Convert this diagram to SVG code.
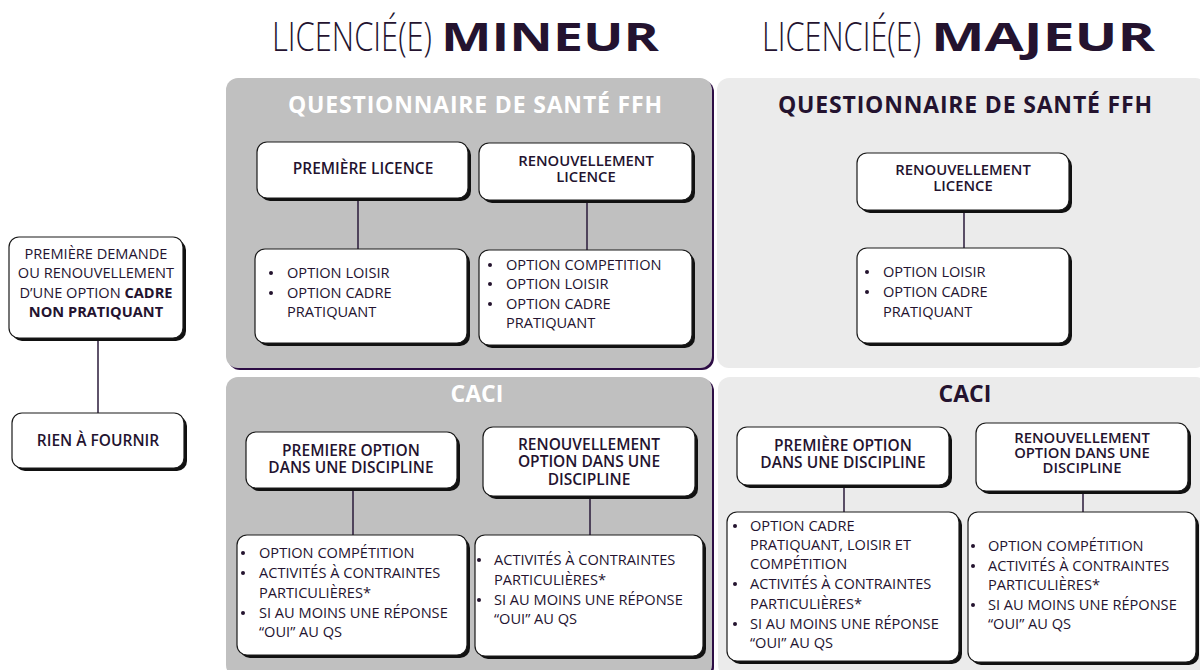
<svg xmlns="http://www.w3.org/2000/svg" width="1200" height="670" viewBox="0 0 1200 670">
<style>
.t{font-family:"Open Sans","Liberation Sans",sans-serif;fill:#24132f}
.h{font-size:40px;font-weight:300}
.hb{font-weight:700}
.pt{font-size:23px;font-weight:700;text-anchor:middle}
.bt{font-size:15.5px;font-weight:600;text-anchor:middle}
.bs{font-size:14.8px}
.li{font-size:14.6px;font-weight:400}
.b{font-weight:700}
.dot{fill:#24132f}
.bx{fill:#ffffff;stroke:#1a1a1a;stroke-width:1.2}
.sh{fill:#111111}
.ln{stroke:#2a1a3a;stroke-width:1.5;fill:none}
.pd{fill:#c0c0c0}
.pl{fill:#ebebeb}
.pe{fill:#2d0d45}
</style>
<rect width="1200" height="670" fill="#ffffff"/>

<g id="titles">
<text class="t h" x="272" y="51"><tspan textLength="160" lengthAdjust="spacingAndGlyphs">LICENCIÉ(E)</tspan><tspan class="hb" x="441" textLength="218" lengthAdjust="spacingAndGlyphs">MINEUR</tspan></text>
<text class="t h" x="762" y="51"><tspan textLength="159" lengthAdjust="spacingAndGlyphs">LICENCIÉ(E)</tspan><tspan class="hb" x="931" textLength="224" lengthAdjust="spacingAndGlyphs">MAJEUR</tspan></text>
</g>

<g id="panels">
<rect class="pe" x="228" y="80" width="486" height="290" rx="12"/>
<rect class="pd" x="226" y="78" width="486" height="290" rx="12"/>
<rect class="pl" x="717" y="78" width="490" height="290" rx="12"/>
<rect class="pe" x="228" y="379" width="486" height="300" rx="12"/>
<rect class="pd" x="226" y="377" width="486" height="300" rx="12"/>
<rect class="pl" x="718" y="377" width="490" height="300" rx="12"/>
<text class="t pt" x="475" y="113" textLength="374" style="fill:#ffffff">QUESTIONNAIRE DE SANTÉ FFH</text>
<text class="t pt" x="965" y="113" textLength="374">QUESTIONNAIRE DE SANTÉ FFH</text>
<text class="t pt" x="477" y="402" style="fill:#ffffff">CACI</text>
<text class="t pt" x="965" y="402">CACI</text>
</g>

<g id="connectors">
<line class="ln" x1="98" y1="339" x2="98" y2="413"/>
<line class="ln" x1="358" y1="198" x2="358" y2="249"/>
<line class="ln" x1="587" y1="200" x2="587" y2="250"/>
<line class="ln" x1="964" y1="210" x2="964" y2="248"/>
<line class="ln" x1="353" y1="488" x2="353" y2="535"/>
<line class="ln" x1="590" y1="496" x2="590" y2="535"/>
<line class="ln" x1="844" y1="485" x2="844" y2="512"/>
<line class="ln" x1="1083" y1="491" x2="1083" y2="512"/>
</g>

<g id="n-cadre">
<rect class="sh" x="12" y="240" width="174" height="101" rx="10"/>
<rect class="bx" x="9" y="237" width="174" height="101" rx="10"/>
<text class="t li" x="96" y="259" text-anchor="middle">PREMIÈRE DEMANDE</text>
<text class="t li" x="96" y="278" text-anchor="middle">OU RENOUVELLEMENT</text>
<text class="t li" x="96" y="298" text-anchor="middle">D’UNE OPTION <tspan class="b">CADRE</tspan></text>
<text class="t li b" x="96" y="317" text-anchor="middle">NON PRATIQUANT</text>
</g>
<g id="n-rien">
<rect class="sh" x="15" y="416" width="172" height="55" rx="10"/>
<rect class="bx" x="12" y="413" width="172" height="55" rx="10"/>
<text class="t bt" x="98" y="446">RIEN À FOURNIR</text>
</g>

<g id="n-min-premiere">
<rect class="sh" x="260" y="145" width="211" height="56" rx="10"/>
<rect class="bx" x="257" y="142" width="211" height="56" rx="10"/>
<text class="t bt" x="363" y="174">PREMIÈRE LICENCE</text>
</g>
<g id="n-min-renouv">
<rect class="sh" x="482" y="146" width="213" height="57" rx="10"/>
<rect class="bx" x="479" y="143" width="213" height="57" rx="10"/>
<text class="t bt bs" x="586" y="166">RENOUVELLEMENT</text>
<text class="t bt bs" x="586" y="182">LICENCE</text>
</g>
<g id="n-min-prem-opts">
<rect class="sh" x="258" y="252" width="212" height="94" rx="10"/>
<rect class="bx" x="255" y="249" width="212" height="94" rx="10"/>
<circle class="dot" cx="271" cy="273" r="2"/><circle class="dot" cx="271" cy="293" r="2"/>
<text class="t li" x="287" y="278">OPTION LOISIR</text>
<text class="t li" x="287" y="298">OPTION CADRE</text>
<text class="t li" x="287" y="317">PRATIQUANT</text>
</g>
<g id="n-min-renouv-opts">
<rect class="sh" x="482" y="253" width="213" height="95" rx="10"/>
<rect class="bx" x="479" y="250" width="213" height="95" rx="10"/>
<circle class="dot" cx="490" cy="265" r="2"/><circle class="dot" cx="490" cy="284" r="2"/><circle class="dot" cx="490" cy="304" r="2"/>
<text class="t li" x="506" y="270">OPTION COMPETITION</text>
<text class="t li" x="506" y="289">OPTION LOISIR</text>
<text class="t li" x="506" y="309">OPTION CADRE</text>
<text class="t li" x="506" y="328">PRATIQUANT</text>
</g>

<g id="n-maj-renouv">
<rect class="sh" x="860" y="156" width="212" height="57" rx="10"/>
<rect class="bx" x="857" y="153" width="212" height="57" rx="10"/>
<text class="t bt bs" x="963" y="175">RENOUVELLEMENT</text>
<text class="t bt bs" x="963" y="191">LICENCE</text>
</g>
<g id="n-maj-renouv-opts">
<rect class="sh" x="860" y="251" width="212" height="95" rx="10"/>
<rect class="bx" x="857" y="248" width="212" height="95" rx="10"/>
<circle class="dot" cx="867" cy="272" r="2"/><circle class="dot" cx="867" cy="292" r="2"/>
<text class="t li" x="883" y="277">OPTION LOISIR</text>
<text class="t li" x="883" y="297">OPTION CADRE</text>
<text class="t li" x="883" y="317">PRATIQUANT</text>
</g>

<g id="n-min-caci-prem">
<rect class="sh" x="249" y="435" width="211" height="56" rx="10"/>
<rect class="bx" x="246" y="432" width="211" height="56" rx="10"/>
<text class="t bt" x="351" y="456">PREMIERE OPTION</text>
<text class="t bt" x="351" y="473">DANS UNE DISCIPLINE</text>
</g>
<g id="n-min-caci-renouv">
<rect class="sh" x="486" y="430" width="212" height="69" rx="10"/>
<rect class="bx" x="483" y="427" width="212" height="69" rx="10"/>
<text class="t bt" x="589" y="450">RENOUVELLEMENT</text>
<text class="t bt" x="589" y="467">OPTION DANS UNE</text>
<text class="t bt" x="589" y="485">DISCIPLINE</text>
</g>
<g id="n-min-caci-prem-opts">
<rect class="sh" x="240" y="538" width="230" height="120" rx="10"/>
<rect class="bx" x="237" y="535" width="230" height="120" rx="10"/>
<circle class="dot" cx="243" cy="553" r="2"/><circle class="dot" cx="243" cy="573" r="2"/><circle class="dot" cx="243" cy="613" r="2"/>
<text class="t li" x="259" y="558">OPTION COMPÉTITION</text>
<text class="t li" x="259" y="578">ACTIVITÉS À CONTRAINTES</text>
<text class="t li" x="259" y="598">PARTICULIÈRES*</text>
<text class="t li" x="259" y="618">SI AU MOINS UNE RÉPONSE</text>
<text class="t li" x="259" y="637">“OUI” AU QS</text>
</g>
<g id="n-min-caci-renouv-opts">
<rect class="sh" x="478" y="538" width="228" height="121" rx="10"/>
<rect class="bx" x="475" y="535" width="228" height="121" rx="10"/>
<circle class="dot" cx="479" cy="560" r="2"/><circle class="dot" cx="479" cy="600" r="2"/>
<text class="t li" x="494" y="565">ACTIVITÉS À CONTRAINTES</text>
<text class="t li" x="494" y="585">PARTICULIÈRES*</text>
<text class="t li" x="494" y="605">SI AU MOINS UNE RÉPONSE</text>
<text class="t li" x="494" y="624">“OUI” AU QS</text>
</g>

<g id="n-maj-caci-prem">
<rect class="sh" x="740" y="430" width="212" height="58" rx="10"/>
<rect class="bx" x="737" y="427" width="212" height="58" rx="10"/>
<text class="t bt" x="843" y="451">PREMIÈRE OPTION</text>
<text class="t bt" x="843" y="468">DANS UNE DISCIPLINE</text>
</g>
<g id="n-maj-caci-renouv">
<rect class="sh" x="979" y="426" width="212" height="68" rx="10"/>
<rect class="bx" x="976" y="423" width="212" height="68" rx="10"/>
<text class="t bt bs" x="1082" y="443">RENOUVELLEMENT</text>
<text class="t bt bs" x="1082" y="458">OPTION DANS UNE</text>
<text class="t bt bs" x="1082" y="473">DISCIPLINE</text>
</g>
<g id="n-maj-caci-prem-opts">
<rect class="sh" x="730" y="515" width="232" height="149" rx="10"/>
<rect class="bx" x="727" y="512" width="232" height="149" rx="10"/>
<circle class="dot" cx="735" cy="526" r="2"/><circle class="dot" cx="735" cy="584" r="2"/><circle class="dot" cx="735" cy="624" r="2"/>
<text class="t li" x="750" y="531">OPTION CADRE</text>
<text class="t li" x="750" y="550">PRATIQUANT, LOISIR ET</text>
<text class="t li" x="750" y="569">COMPÉTITION</text>
<text class="t li" x="750" y="589">ACTIVITÉS À CONTRAINTES</text>
<text class="t li" x="750" y="609">PARTICULIÈRES*</text>
<text class="t li" x="750" y="629">SI AU MOINS UNE RÉPONSE</text>
<text class="t li" x="750" y="648">“OUI” AU QS</text>
</g>
<g id="n-maj-caci-renouv-opts">
<rect class="sh" x="971" y="515" width="228" height="150" rx="10"/>
<rect class="bx" x="968" y="512" width="228" height="150" rx="10"/>
<circle class="dot" cx="973" cy="546" r="2"/><circle class="dot" cx="973" cy="566" r="2"/><circle class="dot" cx="973" cy="605" r="2"/>
<text class="t li" x="988" y="551">OPTION COMPÉTITION</text>
<text class="t li" x="988" y="571">ACTIVITÉS À CONTRAINTES</text>
<text class="t li" x="988" y="590">PARTICULIÈRES*</text>
<text class="t li" x="988" y="610">SI AU MOINS UNE RÉPONSE</text>
<text class="t li" x="988" y="629">“OUI” AU QS</text>
</g>
</svg>
